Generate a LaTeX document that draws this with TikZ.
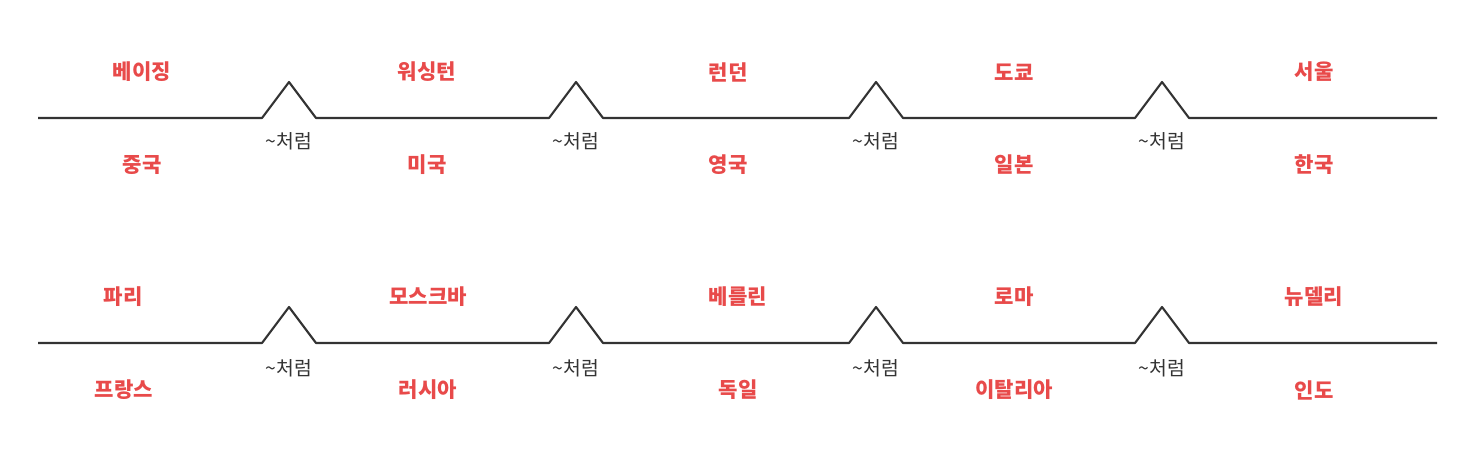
\documentclass[tikz,border=0pt]{standalone}
\usepackage{fontspec}
\newfontfamily\kr{Noto Sans CJK KR}
\definecolor{lbl}{HTML}{E84A4A}
\definecolor{ln}{HTML}{333333}
\begin{document}
\begin{tikzpicture}[x=0.02cm,y=-0.02cm,
  city/.style={font=\kr\bfseries\fontsize{12}{14}\selectfont,text=lbl},
  lk/.style={font=\kr\fontsize{11}{13}\selectfont,text=ln},
  wire/.style={draw=ln,line width=1.2pt,line join=round}]
\useasboundingbox (0,0) rectangle (1474,460);
\foreach \r/\y/\ly in {1/118/141, 2/343/368}{
  \coordinate (s\r) at (38,\y);
  \coordinate (e\r) at (1437,\y);
  \foreach \b/\x in {1/289,2/576,3/876,4/1162}{
    \coordinate (a\r\b) at (\x-27,\y);
    \coordinate (p\r\b) at (\x,\y-36);
    \coordinate (c\r\b) at (\x+27,\y);
    \node[lk] (k\r\b) at (\x,\ly) {\textasciitilde 처럼};
  }
  \draw[wire] (s\r) -- (a\r1) -- (p\r1) -- (c\r1) -- (a\r2) -- (p\r2) -- (c\r2) -- (a\r3) -- (p\r3) -- (c\r3) -- (a\r4) -- (p\r4) -- (c\r4) -- (e\r);
}
\foreach \n/\x/\y/\t in {
 t1/142/72/베이징, t2/427/72/워싱턴, t3/728/72/런던, t4/1014/72/도쿄, t5/1314/72/서울,
 u1/142/165/중국, u2/427/165/미국, u3/728/165/영국, u4/1014/165/일본, u5/1314/165/한국,
 v1/123/297/파리, v2/428/297/모스크바, v3/738/297/베를린, v4/1014/297/로마, v5/1314/297/뉴델리,
 w1/124/390/프랑스, w2/428/390/러시아, w3/738/390/독일, w4/1014/390/이탈리아, w5/1314/390/인도}
 \node[city] (\n) at (\x,\y) {\t};
\end{tikzpicture}
\end{document}
